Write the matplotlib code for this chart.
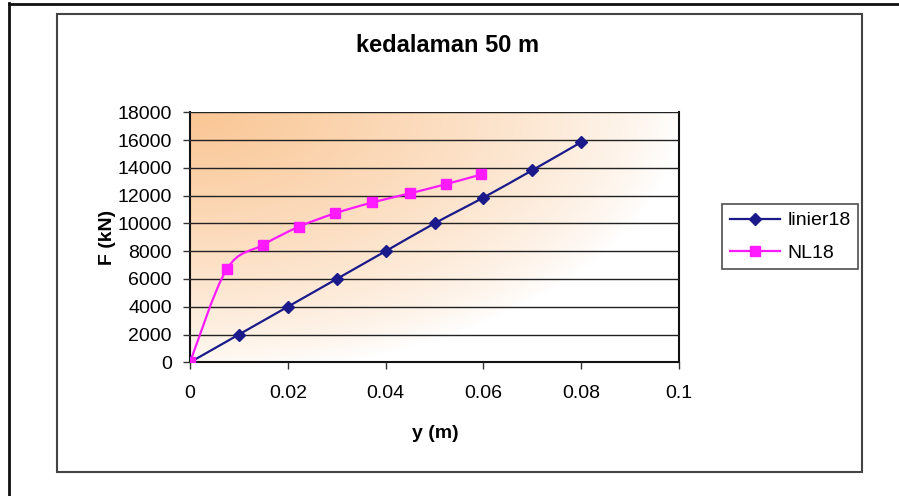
import numpy as np
import matplotlib
matplotlib.use("Agg")
import matplotlib.pyplot as plt
from matplotlib.path import Path
from matplotlib.patches import PathPatch, Rectangle
from matplotlib.lines import Line2D

plt.rcParams.update({'font.family': 'sans-serif',
                     'font.sans-serif': ['Liberation Sans', 'DejaVu Sans']})

# data
y_lin = [0, 0.01, 0.02, 0.03, 0.04, 0.05, 0.06, 0.07, 0.08]
F_lin = [0, 2000, 4000, 6000, 8000, 10000, 11860, 13830, 15850]
y_nl = [0, 0.0075, 0.015, 0.0222, 0.0296, 0.0373, 0.0449, 0.0524, 0.0596]
F_nl = [0, 6700, 8460, 9750, 10720, 11510, 12160, 12830, 13530]

xticks = [0, 0.02, 0.04, 0.06, 0.08, 0.1]
xtick_labels = ['0', '0.02', '0.04', '0.06', '0.08', '0.1']
yticks = list(range(0, 18001, 2000))

W, H = 899, 496


def smooth_path(xs, ys):
    # excel style smoothed line (catmull-rom as cubic bezier)
    pts = np.column_stack([xs, ys]).astype(float)
    verts = [pts[0]]
    codes = [Path.MOVETO]
    n = len(pts)
    for i in range(n - 1):
        p0 = pts[i - 1] if i > 0 else pts[i]
        p1 = pts[i]
        p2 = pts[i + 1]
        p3 = pts[i + 2] if i + 2 < n else pts[i + 1]
        c1 = p1 + (p2 - p0) / 6.0
        c2 = p2 - (p3 - p1) / 6.0
        verts += [c1, c2, p2]
        codes += [Path.CURVE4] * 3
    return Path(verts, codes)


fig = plt.figure(figsize=(W / 100, H / 100), dpi=100)

# outer page lines and chart frame
fig.add_artist(Line2D([8.5 / W, 8.5 / W], [0, 1 - 3 / H], transform=fig.transFigure,
                      color='#111111', lw=2))
fig.add_artist(Line2D([8.5 / W, 1], [1 - 4 / H, 1 - 4 / H], transform=fig.transFigure,
                      color='#111111', lw=2))
fig.add_artist(Rectangle((57 / W, 1 - 472 / H), (862 - 57) / W, (472 - 14) / H,
                         transform=fig.transFigure, fill=False,
                         edgecolor='#444444', lw=1.5))

ax = fig.add_axes([190 / W, 1 - 362.3 / H, (679 - 190) / W, (362.3 - 112.3) / H])

# corner gradient background (row 0 = top of plot area)
gx, gy = np.meshgrid(np.linspace(0, 1, 300), np.linspace(0, 1, 200))
d = np.sqrt(gx ** 2 + (gy * 0.95) ** 2)
f = np.clip(1 - d, 0, 1) ** 0.75
orange = np.array([250, 198, 148]) / 255.0
img = 1 - f[..., None] * (1 - orange)
ax.imshow(img, extent=[0, 1, 0, 1], origin='upper', transform=ax.transAxes,
          aspect='auto', zorder=0, interpolation='bilinear')

ax.set_xlim(0, 0.1)
ax.set_ylim(0, 18000)
ax.set_yticks(yticks)
ax.set_xticks(xticks)
ax.set_xticklabels(xtick_labels)
ax.grid(axis='y', color='#222222', lw=1)
ax.set_axisbelow(False)
for ln in ax.get_ygridlines():
    ln.set_zorder(1)

ax.add_patch(PathPatch(smooth_path(y_lin, F_lin), fill=False, edgecolor='#1a1a8a',
                       lw=1.6, zorder=3))
ax.plot(y_lin, F_lin, ls='none', marker='D', ms=6.2, color='#1a1a8a', zorder=4)
ax.add_patch(PathPatch(smooth_path(y_nl, F_nl), fill=False, edgecolor='#ff1aff',
                       lw=1.6, zorder=3))
ax.plot(y_nl, F_nl, ls='none', marker='s', ms=7.5, color='#ff1aff', zorder=4)

for s in ['left', 'bottom', 'right']:
    ax.spines[s].set_color('#111111')
    ax.spines[s].set_linewidth(1.5)
ax.spines['top'].set_visible(False)
ax.tick_params(axis='both', direction='out', length=5, width=1, labelsize=14,
               color='#333333')
ax.tick_params(axis='y', pad=8)
ax.tick_params(axis='x', pad=11)

fig.text(448 / W, 1 - 45 / H, 'kedalaman 50 m', ha='center', va='center',
         fontsize=17, fontweight='bold')
fig.text(107 / W, 1 - 237 / H, 'F (kN)', ha='center', va='center', rotation=90,
         fontsize=14, fontweight='bold')
fig.text(435 / W, 1 - 433 / H, 'y (m)', ha='center', va='center',
         fontsize=14, fontweight='bold')

handles = [Line2D([], [], color='#1a1a8a', lw=1.6, marker='D', ms=6.2),
           Line2D([], [], color='#ff1aff', lw=1.6, marker='s', ms=7.5)]
leg = fig.legend(handles, ['linier18', 'NL18'], loc='upper left',
                 bbox_to_anchor=(722 / W, 1 - 204 / H), fontsize=14,
                 frameon=True, fancybox=False, handlelength=2.6,
                 handletextpad=0.35, labelspacing=0.75, borderpad=0.4,
                 borderaxespad=0)
leg.get_frame().set_edgecolor('#222222')
leg.get_frame().set_linewidth(1.2)

fig.savefig('out.png', dpi=100)
